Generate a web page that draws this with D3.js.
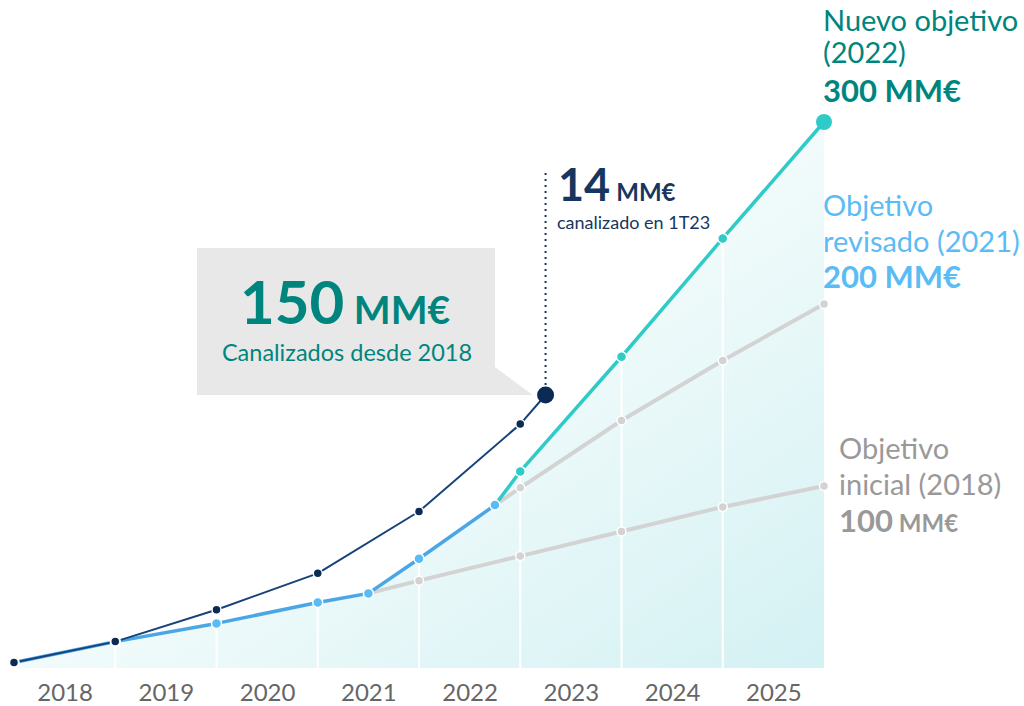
<!DOCTYPE html>
<html>
<head>
<meta charset="utf-8">
<script src="https://cdn.jsdelivr.net/npm/d3@7"></script>
<style>
  body { margin: 0; background: #fff; }
  svg { display: block; font-family: Lato, "Open Sans", sans-serif; }
</style>
</head>
<body>
<svg id="chart" width="1024" height="706"></svg>
<script>
// time is in years since start of 2018 (1 = end of 2018), values in MM€
const years = ["2018", "2019", "2020", "2021", "2022", "2023", "2024", "2025"];

const realT = [0, 1, 2, 3, 4, 5, 5.25];
const realV = [3, 14.5, 32, 52, 86, 134, 150];

const revT = [0, 1, 2, 3, 3.5, 4, 4.75];
const revV = [3, 14.5, 24.5, 36, 41, 60, 89.5];

const initT = [3.5, 4, 5, 6, 7, 8];
const initV = [41, 48, 61.5, 75, 88.5, 100];

const revFutT = [4.75, 5, 6, 7, 8];
const revFutV = [89.5, 99, 136, 169, 200];

const newT = [4.75, 5, 6, 7, 8];
const newV = [89.5, 108, 171, 236, 300];

const zip = (t, v) => t.map((d, i) => ({ t: d, v: v[i] }));

const real = zip(realT, realV);
const rev = zip(revT, revV);
const init = zip(initT, initV);
const revFut = zip(revFutT, revFutV);
const nuevo = zip(newT, newV);

const svg = d3.select("#chart");

const x = d3.scaleLinear().domain([0, 8]).range([14, 824]);
const y = d3.scaleLinear().domain([0, 300]).range([668, 122]);

const line = d3.line().x(d => x(d.t)).y(d => y(d.v));

// gradient for area
const defs = svg.append("defs");
const grad = defs.append("linearGradient")
    .attr("id", "areaGrad")
    .attr("x1", 0).attr("y1", 0)
    .attr("x2", 1).attr("y2", 1);
grad.append("stop").attr("offset", "0%").attr("stop-color", "#ffffff");
grad.append("stop").attr("offset", "50%").attr("stop-color", "#f2fbfb");
grad.append("stop").attr("offset", "100%").attr("stop-color", "#d4f1f3");

// envelope = revised path until 4.75 then new objective
const envelope = rev.concat(nuevo.slice(1));
const area = d3.area().x(d => x(d.t)).y0(y(0)).y1(d => y(d.v));

defs.append("clipPath").attr("id", "areaClip")
    .append("path").attr("d", area(envelope));

svg.append("path")
    .attr("d", area(envelope))
    .attr("fill", "url(#areaGrad)");

// white year separators inside area
svg.append("g")
    .attr("clip-path", "url(#areaClip)")
    .selectAll("line")
    .data(d3.range(1, 8))
    .join("line")
    .attr("x1", d => x(d)).attr("x2", d => x(d))
    .attr("y1", y(0)).attr("y2", y(300))
    .attr("stroke", "#fff")
    .attr("stroke-width", 2);

// x axis labels
const axis = d3.axisBottom(x)
    .tickValues(d3.range(0.5, 8, 1))
    .tickFormat((d, i) => years[i])
    .tickSize(0)
    .tickPadding(0);
const gx = svg.append("g")
    .attr("transform", "translate(0,684)")
    .call(axis);
gx.select(".domain").remove();
gx.selectAll("text")
    .attr("dy", "0.71em")
    .attr("font-family", "Lato, sans-serif")
    .attr("font-size", 24)
    .attr("fill", "#666");

// lines
const drawLine = (data, color, width) =>
    svg.append("path")
        .attr("d", line(data))
        .attr("fill", "none")
        .attr("stroke", color)
        .attr("stroke-width", width)
        .attr("stroke-linejoin", "round")
        .attr("stroke-linecap", "round");

drawLine(init, "#d3d3d3", 4);
drawLine(revFut, "#d3d3d3", 4);
drawLine(rev, "#4ba6e6", 3.5);
drawLine(nuevo, "#2ecbc8", 3.5);
drawLine(real, "#17427a", 2);

// markers
const drawDots = (data, color, r) =>
    svg.append("g").selectAll("circle")
        .data(data)
        .join("circle")
        .attr("cx", d => x(d.t))
        .attr("cy", d => y(d.v))
        .attr("r", r)
        .attr("fill", color)
        .attr("stroke", "#fff")
        .attr("stroke-width", 1.5);

drawDots(init.slice(1), "#d3d3d3", 4.5);
drawDots(revFut.slice(1), "#d3d3d3", 4.5);
drawDots(rev, "#5bbcf5", 5);
drawDots(nuevo.slice(1, -1), "#2ecbc8", 5);
drawDots(real.slice(0, -1), "#0b2b55", 4.5);

// big end markers
const lastNew = nuevo[nuevo.length - 1];
svg.append("circle")
    .attr("cx", x(lastNew.t)).attr("cy", y(lastNew.v))
    .attr("r", 8).attr("fill", "#2ecbc8");

const lastReal = real[real.length - 1];
const px = x(lastReal.t), py = y(lastReal.v);

// dotted leader
svg.append("line")
    .attr("x1", px).attr("x2", px)
    .attr("y1", 173).attr("y2", py - 9)
    .attr("stroke", "#17365f")
    .attr("stroke-width", 2)
    .attr("stroke-dasharray", "2,4");

// callout box
svg.append("path")
    .attr("d", `M197,248 H495 V367 L${px - 13},${py} H197 Z`)
    .attr("fill", "#e8e8e8");

svg.append("circle")
    .attr("cx", px).attr("cy", py)
    .attr("r", 8.5).attr("fill", "#0b2b55");

const teal = "#00857e";
const t150 = svg.append("text")
    .attr("x", 345).attr("y", 324)
    .attr("text-anchor", "middle")
    .attr("fill", teal)
    .attr("font-weight", 700);
t150.append("tspan").attr("font-size", 60).text("150");
t150.append("tspan").attr("font-size", 39).text(" MM€");

svg.append("text")
    .attr("x", 347).attr("y", 361)
    .attr("text-anchor", "middle")
    .attr("fill", teal)
    .attr("font-size", 23.5)
    .text("Canalizados desde 2018");

const navyTxt = "#17365f";
const t14 = svg.append("text")
    .attr("x", 558).attr("y", 201)
    .attr("fill", navyTxt)
    .attr("font-weight", 700);
t14.append("tspan").attr("font-size", 45).text("14");
t14.append("tspan").attr("font-size", 24).attr("dx", 6).text("MM€");

svg.append("text")
    .attr("x", 557).attr("y", 229)
    .attr("fill", navyTxt)
    .attr("font-size", 18)
    .text("canalizado en 1T23");

// series labels on the right
const label = (xPos, lines, color, boldMain, boldSmall, boldSmallSize) => {
    const g = svg.append("g").attr("fill", color);
    lines.forEach(l => {
        g.append("text")
            .attr("x", xPos).attr("y", l.y)
            .attr("font-size", 29)
            .text(l.text);
    });
    const b = g.append("text")
        .attr("x", xPos).attr("y", boldMain.y)
        .attr("font-weight", 700);
    b.append("tspan").attr("font-size", 31).text(boldMain.text);
    b.append("tspan").attr("font-size", boldSmallSize).text(" " + boldSmall);
};

label(823, [{ text: "Nuevo objetivo", y: 31 }, { text: "(2022)", y: 63 }],
    teal, { text: "300", y: 102 }, "MM€", 31);
label(823, [{ text: "Objetivo", y: 216 }, { text: "revisado (2021)", y: 252 }],
    "#5bbcf5", { text: "200", y: 288 }, "MM€", 31);
label(839, [{ text: "Objetivo", y: 459 }, { text: "inicial (2018)", y: 495 }],
    "#999999", { text: "100", y: 532 }, "MM€", 24);
</script>
</body>
</html>
